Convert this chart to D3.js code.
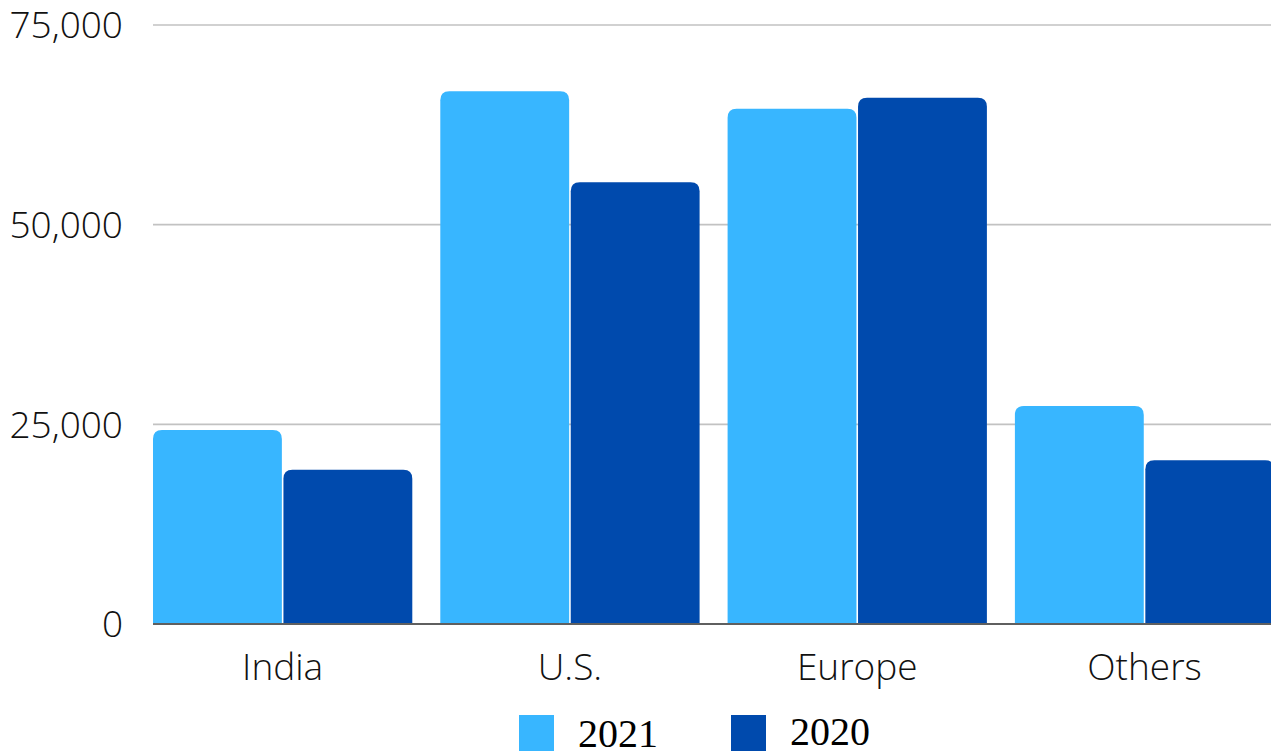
<!DOCTYPE html>
<html><head><meta charset="utf-8">
<script src="https://cdn.jsdelivr.net/npm/d3@7"></script>
<style>html,body{margin:0;padding:0;background:#fff;overflow:hidden}</style>
</head><body><svg id="c" width="1271" height="751"></svg>
<script>
const categories = ["India", "U.S.", "Europe", "Others"];
const seriesNames = ["2021", "2020"];
const values2021 = [24300, 66700, 64500, 27300];
const values2020 = [19300, 55300, 65900, 20500];
const yTicks = [0, 25000, 50000, 75000];
const colors = ["#38b6ff", "#004aad"];

(function () {
const svg = d3.select("#c");
const plotLeft = 153, plotBottom = 624, plotTop = 25;
const step = 287.3, gap = 28;
const x0 = d3.scaleBand().domain(categories)
  .range([plotLeft, plotLeft + 4 * step - gap]).paddingInner(gap / step).paddingOuter(0);
const x1 = d3.scaleBand().domain(seriesNames).range([0, x0.bandwidth()]).paddingInner(0.012);
const y = d3.scaleLinear().domain([0, 75000]).range([plotBottom, plotTop]);

// gridlines
svg.append("g").selectAll("line").data(yTicks.filter(d => d > 0)).join("line")
  .attr("x1", plotLeft).attr("x2", 1271)
  .attr("y1", d => y(d)).attr("y2", d => y(d))
  .attr("stroke", "#c2c2c2").attr("stroke-width", 1.6);

// y tick labels
svg.append("g").selectAll("text").data(yTicks).join("text")
  .attr("x", 123).attr("y", d => y(d)).attr("dy", "0.36em")
  .attr("text-anchor", "end")
  .style("font-family", "'Open Sans'").style("font-weight", 300)
  .style("font-size", "37px").attr("fill", "#111")
  .text(d => d3.format(",")(d));

// bars with rounded top corners
function topRounded(xp, yp, w, h, r) {
  r = Math.min(r, h, w / 2);
  return `M${xp},${yp + h}V${yp + r}Q${xp},${yp} ${xp + r},${yp}H${xp + w - r}Q${xp + w},${yp} ${xp + w},${yp + r}V${yp + h}Z`;
}
const rows = categories.map((c, i) => ({ c, vals: [values2021[i], values2020[i]] }));
const g = svg.append("g").selectAll("g").data(rows).join("g")
  .attr("transform", d => `translate(${x0(d.c)},0)`);
g.selectAll("path").data(d => d.vals.map((v, j) => ({ s: seriesNames[j], v, j }))).join("path")
  .attr("d", d => topRounded(x1(d.s), y(d.v), x1.bandwidth(), plotBottom - y(d.v), 9))
  .attr("fill", d => colors[d.j]);

// baseline
svg.append("line").attr("x1", plotLeft).attr("x2", 1271).attr("y1", plotBottom).attr("y2", plotBottom)
  .attr("stroke", "#5f5f5f").attr("stroke-width", 2);

// category labels
svg.append("g").selectAll("text").data(categories).join("text")
  .attr("x", d => x0(d) + x0.bandwidth() / 2).attr("y", 680)
  .attr("text-anchor", "middle")
  .style("font-family", "'Open Sans'").style("font-weight", 300)
  .style("font-size", "37px").attr("fill", "#111")
  .text(d => d);

// legend
const legendX = [519, 731];
const lg = svg.append("g").selectAll("g").data(seriesNames).join("g")
  .attr("transform", (d, i) => `translate(${legendX[i]},715)`);
lg.append("rect").attr("width", 35).attr("height", 36).attr("fill", (d, i) => colors[i]);
lg.append("text").attr("x", 59).attr("y", (d, i) => i === 0 ? 32 : 30)
  .style("font-family", "'Liberation Serif', 'DejaVu Serif', serif").style("font-weight", 400)
  .style("font-size", "40px").attr("fill", "#000")
  .text(d => d);
})();
</script></body></html>
